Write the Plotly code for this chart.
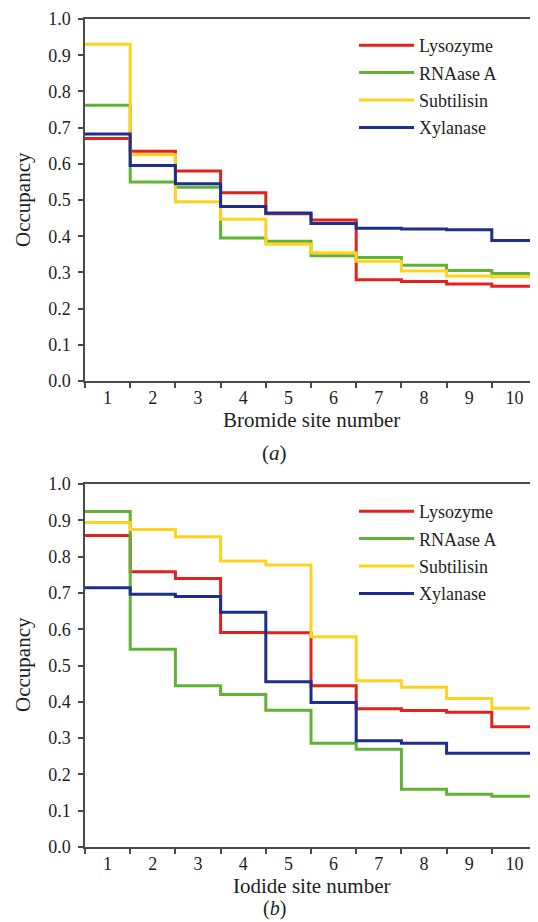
import plotly.graph_objects as go

sites = list(range(1, 11))
series_names = ["Lysozyme", "RNAase A", "Subtilisin", "Xylanase"]
series_colors = ["#e2231c", "#5fb233", "#ffd21c", "#1f2d8e"]

# (a) Bromide site occupancies
bromide_lysozyme = [0.670, 0.635, 0.580, 0.520, 0.462, 0.445, 0.280, 0.275, 0.268, 0.262]
bromide_rnaase = [0.762, 0.550, 0.535, 0.395, 0.386, 0.346, 0.341, 0.320, 0.305, 0.297]
bromide_subtilisin = [0.930, 0.625, 0.495, 0.447, 0.378, 0.354, 0.331, 0.304, 0.290, 0.288]
bromide_xylanase = [0.682, 0.595, 0.545, 0.482, 0.464, 0.435, 0.422, 0.420, 0.418, 0.388]

# (b) Iodide site occupancies
iodide_lysozyme = [0.858, 0.758, 0.740, 0.591, 0.590, 0.444, 0.381, 0.376, 0.371, 0.331]
iodide_rnaase = [0.924, 0.545, 0.444, 0.420, 0.377, 0.286, 0.269, 0.159, 0.145, 0.140]
iodide_subtilisin = [0.894, 0.875, 0.855, 0.788, 0.777, 0.579, 0.458, 0.440, 0.409, 0.382]
iodide_xylanase = [0.714, 0.696, 0.690, 0.647, 0.455, 0.398, 0.293, 0.286, 0.258, 0.258]

bromide = [bromide_lysozyme, bromide_rnaase, bromide_subtilisin, bromide_xylanase]
iodide = [iodide_lysozyme, iodide_rnaase, iodide_subtilisin, iodide_xylanase]

# page body has an 8px margin; size the figure so it fits the 538x922 window
OFF = 8
W, H = 538 - OFF, 922 - OFF
ML, MR = 85 - OFF, 1
PW = W - ML - MR
FONT = "Times New Roman, Liberation Serif, serif"
AXC = "#4a4a4a"
TXT = "#1e1e1e"

def sy(py):
    """screen y (px) -> paper y"""
    return 1 - (py - OFF) / H

def sx(px):
    """screen x (px) -> paper x"""
    return (px - OFF - ML) / PW

fig = go.Figure()

edges = [s - 0.5 for s in sites] + [sites[-1] + 0.5]

for data, xa, ya, lg in [(bromide, "x", "y", "legend"), (iodide, "x2", "y2", "legend2")]:
    for i, (name, vals) in enumerate(zip(series_names, data)):
        fig.add_trace(go.Scatter(
            x=edges, y=list(vals) + [vals[-1]],
            mode="lines", line=dict(color=series_colors[i], width=3, shape="hv"),
            name=name, xaxis=xa, yaxis=ya, legend=lg,
            legendgroup=f"{lg}_{i}", showlegend=True,
        ))

xcommon = dict(range=[0.5, 10.5], tickmode="array", tickvals=sites,
               ticktext=[str(s) for s in sites], ticks="", showline=True,
               linecolor=AXC, linewidth=1.5, mirror=True, showgrid=False,
               zeroline=False, tickfont=dict(family=FONT, size=18, color=TXT),
               ticklabelstandoff=0, automargin=False,
               minor=dict(tickmode="array", tickvals=edges, ticks="outside",
                          ticklen=5, tickwidth=1.5, tickcolor=AXC, showgrid=False),
               fixedrange=True)
ycommon = dict(range=[0, 1], tickmode="linear", tick0=0, dtick=0.1,
               tickformat=".1f", ticks="outside", ticklen=5, tickwidth=1.5,
               tickcolor=AXC, showline=True, linecolor=AXC, linewidth=1.5,
               mirror=True, showgrid=False, zeroline=False, automargin=False,
               tickfont=dict(family=FONT, size=18, color=TXT),
               ticklabelstandoff=4, fixedrange=True)

legcommon = dict(xanchor="left", yanchor="top", bgcolor="rgba(0,0,0,0)",
                 font=dict(family=FONT, size=18, color=TXT),
                 traceorder="grouped", tracegroupgap=1, itemwidth=55)

fig.update_layout(
    template="none",
    width=W, height=H,
    margin=dict(l=ML, r=MR, t=0, b=0, autoexpand=False),
    paper_bgcolor="white", plot_bgcolor="white",
    font=dict(family=FONT, size=18, color=TXT),
    xaxis=dict(**xcommon, domain=[0, 1], anchor="y"),
    yaxis=dict(**ycommon, domain=[sy(381), sy(19)], anchor="x"),
    xaxis2=dict(**xcommon, domain=[0, 1], anchor="y2"),
    yaxis2=dict(**ycommon, domain=[sy(847), sy(484)], anchor="x2"),
    legend=dict(x=sx(354), y=sy(27), **legcommon),
    legend2=dict(x=sx(354), y=sy(493), **legcommon),
    showlegend=True,
)

annots = [
    dict(text="Bromide site number", x=sx(311), y=sy(420), size=21),
    dict(text="(<i>a</i>)", x=sx(274), y=sy(453), size=21),
    dict(text="Iodide site number", x=sx(311), y=sy(886), size=21),
    dict(text="(<i>b</i>)", x=sx(274), y=sy(908), size=20),
    dict(text="Occupancy", x=sx(23), y=sy(200), textangle=-90, size=21),
    dict(text="Occupancy", x=sx(23), y=sy(665), textangle=-90, size=21),
]
for a in annots:
    size = a.pop("size")
    fig.add_annotation(xref="paper", yref="paper", showarrow=False,
                       xanchor="center", yanchor="middle",
                       font=dict(family=FONT, size=size, color=TXT), **a)

fig.write_html("out.html")
